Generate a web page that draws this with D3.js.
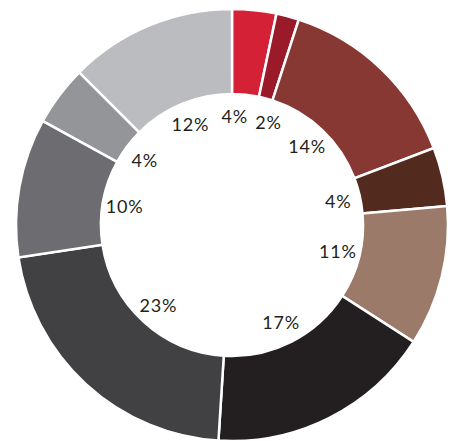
<!DOCTYPE html>
<html>
<head>
<meta charset="utf-8">
<script src="https://cdn.jsdelivr.net/npm/d3@7"></script>
<style>
  html, body { margin: 0; padding: 0; background: #ffffff; }
  svg { display: block; }
</style>
</head>
<body>
<svg id="chart" width="455" height="441"></svg>
<script>
// Data (clockwise from 12 o'clock)
const categories = ["A", "B", "C", "D", "E", "F", "G", "H", "I", "J"];
const values = [3.3, 1.7, 14.2, 4.4, 10.5, 16.9, 21.6, 10.4, 4.5, 12.5];
const labels = ["4%", "2%", "14%", "4%", "11%", "17%", "23%", "10%", "4%", "12%"];
const colors = ["#d42136", "#9b1a2a", "#883833", "#522a1e", "#9c7a6a",
                "#231f20", "#414042", "#6d6c71", "#939598", "#bbbcc0"];

const width = 455, height = 441;
const cx = 232, cy = 225;
const outerR = 216, innerR = 131, labelR = 109;

const svg = d3.select("#chart");
const g = svg.append("g").attr("transform", `translate(${cx},${cy})`);

const pie = d3.pie().sort(null).value(d => d.value);
const data = categories.map((c, i) => ({ cat: c, value: values[i], label: labels[i], color: colors[i] }));
const arcs = pie(data);

const arc = d3.arc().innerRadius(innerR).outerRadius(outerR);

g.selectAll("path.slice")
  .data(arcs)
  .enter().append("path")
  .attr("class", "slice")
  .attr("d", arc)
  .attr("fill", d => d.data.color)
  .attr("stroke", "#ffffff")
  .attr("stroke-width", 2.5)
  .attr("stroke-linejoin", "miter");

// Label angles at slice middles, with simple overlap relaxation
const fontSize = 18;
const fontFamily = "Lato, 'Open Sans', sans-serif";
const spacing = 0.8;
const measure = svg.append("text").attr("font-family", fontFamily)
  .attr("font-size", fontSize).attr("letter-spacing", spacing + "px").attr("visibility", "hidden");
const widths = arcs.map(a => { measure.text(a.data.label); return measure.node().getComputedTextLength(); });
measure.remove();

const ang = arcs.map(a => (a.startAngle + a.endAngle) / 2);
for (let iter = 0; iter < 50; iter++) {
  for (let i = 0; i < ang.length - 1; i++) {
    const need = ((widths[i] + widths[i + 1]) / 2 + 8) / labelR;
    const gap = ang[i + 1] - ang[i];
    if (gap < need) {
      const push = (need - gap) / 2;
      ang[i] -= push;
      ang[i + 1] += push;
    }
  }
}

g.selectAll("text.lbl")
  .data(arcs)
  .enter().append("text")
  .attr("class", "lbl")
  .attr("x", (d, i) => labelR * Math.sin(ang[i]))
  .attr("y", (d, i) => -labelR * Math.cos(ang[i]))
  .attr("text-anchor", "middle")
  .attr("dominant-baseline", "central")
  .attr("font-family", fontFamily)
  .attr("font-size", fontSize)
  .attr("letter-spacing", spacing + "px")
  .attr("fill", "#231f20")
  .text(d => d.data.label);
</script>
</body>
</html>
